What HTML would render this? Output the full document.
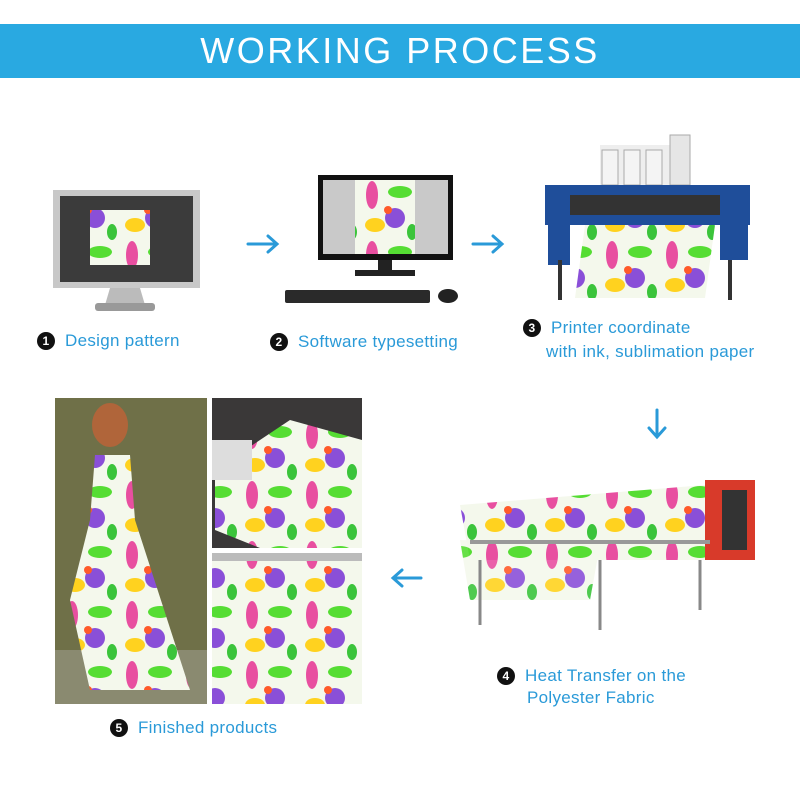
<!DOCTYPE html>
<html><head><meta charset="utf-8"><style>
*{margin:0;padding:0;box-sizing:border-box}
body{width:800px;height:800px;background:#fff;position:relative;overflow:hidden;font-family:"Liberation Sans",sans-serif}
.hdr{position:absolute;left:0;top:24px;width:800px;height:54px;background:#29a9e1;color:#fff;text-align:center;font-size:36px;line-height:54px;letter-spacing:2.5px}
.lbl{position:absolute;color:#2a9ad8;font-size:17px;white-space:nowrap;letter-spacing:.3px}
.num{display:inline-block;width:18px;height:18px;border-radius:50%;background:#111;color:#fff;font-size:12px;line-height:18px;text-align:center;font-weight:bold;margin-right:10px;vertical-align:1px}
.ab{position:absolute}
</style></head><body>
<div class="hdr">WORKING PROCESS</div>
<svg class="ab" style="left:0;top:0" width="800" height="800">
<defs>
<pattern id="pt" width="60" height="60" patternUnits="userSpaceOnUse">
<rect width="60" height="60" fill="#f4f8ec"/>
<ellipse cx="12" cy="15" rx="6" ry="14" fill="#e84fa0"/>
<ellipse cx="40" cy="12" rx="12" ry="6" fill="#55dd33"/>
<circle cx="35" cy="38" r="10" fill="#8a4fd8"/>
<ellipse cx="15" cy="45" rx="10" ry="7" fill="#ffd21f"/>
<ellipse cx="52" cy="52" rx="5" ry="8" fill="#3bc43b"/>
<circle cx="28" cy="30" r="4" fill="#ff5a2a"/>
</pattern>
</defs>
<rect x="53" y="190" width="147" height="98" fill="#c8c8c8"/>
<rect x="60" y="196" width="133" height="86" fill="#3b3b3b"/>
<rect x="90" y="210" width="60" height="55" fill="url(#pt)"/>
<path d="M110 288 L140 288 L145 305 L105 305Z" fill="#bbb"/>
<rect x="95" y="303" width="60" height="8" rx="3" fill="#999"/>
<rect x="318" y="175" width="135" height="85" fill="#111"/>
<rect x="323" y="180" width="125" height="74" fill="#c9c9c9"/>
<rect x="355" y="180" width="60" height="74" fill="url(#pt)"/>
<rect x="378" y="260" width="14" height="10" fill="#222"/>
<rect x="355" y="270" width="60" height="6" fill="#222"/>
<rect x="285" y="290" width="145" height="13" rx="2" fill="#2a2a2a"/>
<ellipse cx="448" cy="296" rx="10" ry="7" fill="#222"/>
<rect x="600" y="145" width="90" height="40" fill="#eee"/>
<rect x="602" y="150" width="16" height="35" fill="#f4f4f4" stroke="#aaa"/>
<rect x="624" y="150" width="16" height="35" fill="#f4f4f4" stroke="#aaa"/>
<rect x="646" y="150" width="16" height="35" fill="#f4f4f4" stroke="#aaa"/>
<rect x="670" y="135" width="20" height="50" fill="#e6e6e6" stroke="#aaa"/>
<rect x="545" y="185" width="205" height="40" fill="#1f4e9a"/>
<rect x="560" y="195" width="170" height="20" fill="#333"/>
<rect x="720" y="190" width="28" height="70" fill="#1f4e9a"/>
<rect x="548" y="190" width="22" height="75" fill="#1f4e9a"/>
<path d="M585 225 L715 225 L705 298 L575 298Z" fill="url(#pt)"/>
<line x1="560" y1="260" x2="560" y2="300" stroke="#333" stroke-width="4"/>
<line x1="730" y1="260" x2="730" y2="300" stroke="#333" stroke-width="4"/>
<g stroke="#2a9ad8" stroke-width="3" fill="none" stroke-linecap="round">
<line x1="248" y1="244" x2="276" y2="244"/><path d="M268 236 L277 244 L268 252"/>
<line x1="473" y1="244" x2="501" y2="244"/><path d="M493 236 L502 244 L493 252"/>
<line x1="657" y1="410" x2="657" y2="436"/><path d="M649 428 L657 437 L665 428"/>
<line x1="394" y1="578" x2="421" y2="578"/><path d="M402 570 L393 578 L402 586"/>
</g>
<rect x="55" y="398" width="152" height="306" fill="#6f7048"/>
<rect x="55" y="650" width="152" height="54" fill="#8a8a70"/>
<ellipse cx="110" cy="425" rx="18" ry="22" fill="#b0653a"/>
<path d="M95 455 L130 455 L135 520 L190 690 L90 690 L70 600 L90 520Z" fill="url(#pt)"/>
<rect x="212" y="398" width="150" height="150" fill="#3a3838"/>
<path d="M215 470 L290 420 L362 440 L362 548 L260 548 L215 530Z" fill="url(#pt)"/>
<rect x="212" y="440" width="40" height="40" fill="#ddd"/>
<rect x="212" y="553" width="150" height="151" fill="url(#pt)"/>
<rect x="212" y="553" width="150" height="8" fill="#bbb"/>
<rect x="705" y="480" width="50" height="80" fill="#d83a2a"/>
<rect x="722" y="490" width="25" height="60" fill="#333"/>
<path d="M460 505 L705 485 L705 560 L470 560Z" fill="url(#pt)"/>
<path d="M460 540 L600 545 L590 600 L470 600Z" fill="url(#pt)" opacity=".9"/>
<rect x="470" y="540" width="240" height="4" fill="#999"/>
<line x1="480" y1="560" x2="480" y2="625" stroke="#888" stroke-width="3"/>
<line x1="600" y1="560" x2="600" y2="630" stroke="#888" stroke-width="3"/>
<line x1="700" y1="560" x2="700" y2="610" stroke="#888" stroke-width="3"/>
</svg>
<div class="lbl" style="left:37px;top:331px"><span class="num">1</span>Design pattern</div>
<div class="lbl" style="left:270px;top:332px"><span class="num">2</span>Software typesetting</div>
<div class="lbl" style="left:523px;top:318px"><span class="num">3</span>Printer coordinate</div>
<div class="lbl" style="left:546px;top:342px">with ink, sublimation paper</div>
<div class="lbl" style="left:497px;top:666px"><span class="num">4</span>Heat Transfer on the</div>
<div class="lbl" style="left:527px;top:688px">Polyester Fabric</div>
<div class="lbl" style="left:110px;top:718px"><span class="num">5</span>Finished products</div>
</body></html>
